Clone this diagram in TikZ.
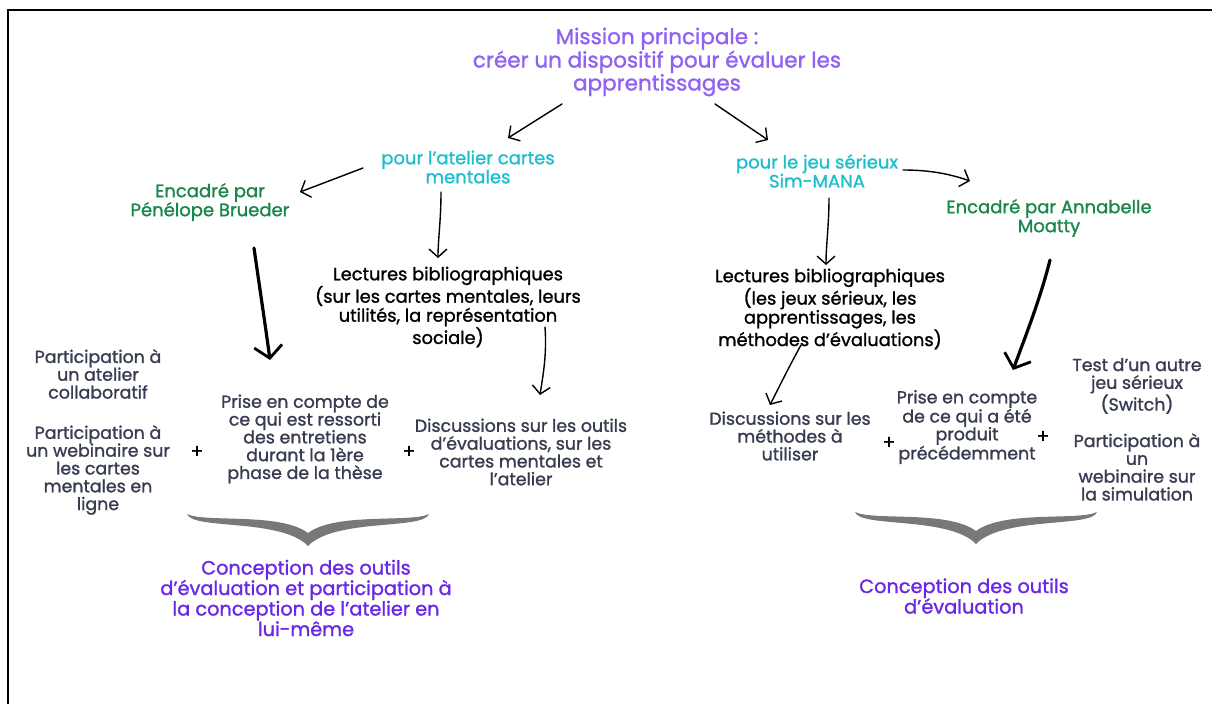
\documentclass[tikz,border=0pt]{standalone}
\usepackage{fontspec}
\setmainfont{Poppins}[FakeBold=1.3]
\usetikzlibrary{arrows.meta}
\definecolor{titlecol}{RGB}{143,98,243}
\definecolor{cyancol}{RGB}{32,190,205}
\definecolor{greencol}{RGB}{25,135,75}
\definecolor{graytext}{RGB}{55,60,80}
\definecolor{purplecol}{RGB}{105,40,230}
\definecolor{bracecol}{RGB}{120,120,120}
\tikzset{
  base/.style={align=center, inner sep=0pt, anchor=center},
  titletxt/.style={base, text=titlecol, font=\fontsize{21.5}{21}\selectfont},
  branch/.style={base, text=cyancol, font=\fontsize{18}{19}\selectfont},
  super/.style={base, text=greencol, font=\fontsize{18}{19}\selectfont},
  readtxt/.style={base, text=black, font=\fontsize{17.8}{19}\selectfont},
  itemtxt/.style={base, text=graytext, font=\fontsize{17.4}{17.8}\selectfont},
  resulttxt/.style={base, text=purplecol, font=\fontsize{19.3}{20.5}\selectfont},
  plustxt/.style={base, text=black, font=\fontsize{19}{20}\selectfont},
  thin arrow/.style={line width=1.4pt, line cap=round, -{Straight Barb[length=8pt,width=18pt,line width=1.4pt]}},
  thick arrow/.style={line width=3.2pt, line cap=round, -{Straight Barb[length=12pt,width=28pt,line width=2.8pt]}},
  bracefill/.style={fill=bracecol, draw=none},
}
\begin{document}
\begin{tikzpicture}[x=1pt,y=-1pt]
\useasboundingbox (0,0) rectangle (1212,704);
% frame
\draw[line width=2pt] (8,704) -- (8,10) -- (1212,10);
% texts
\node[titletxt] (title) at (657,62) {Mission principale :\\créer un dispositif pour évaluer les\\apprentissages};
\node[branch] (atelier) at (468,167) {pour l'atelier cartes\\mentales};
\node[branch] (jeu) at (817,171) {pour le jeu sérieux\\Sim-MANA};
\node[super] (penelope) at (210,202) {Encadré par\\Pénélope Brueder};
\node[super] (annabelle) at (1049,218) {Encadré par Annabelle\\Moatty};
\node[readtxt] (lecL) at (448,307) {Lectures bibliographiques\\(sur les cartes mentales, leurs\\utilités, la représentation\\sociale)};
\node[readtxt] (lecR) at (830,309) {Lectures bibliographiques\\(les jeux sérieux, les\\apprentissages, les\\méthodes d'évaluations)};
\node[itemtxt] (atelierCollab) at (98,374) {Participation à\\un atelier\\collaboratif};
\node[itemtxt] (webL) at (98,470) {Participation à\\un webinaire sur\\les cartes\\mentales en\\ligne};
\node[plustxt] (plusL1) at (197,452) {+};
\node[itemtxt] (priseL) at (305,439) {Prise en compte de\\ce qui est ressorti\\des entretiens\\durant la 1ère\\phase de la thèse};
\node[plustxt] (plusL2) at (409,452) {+};
\node[itemtxt] (discL) at (521,452) {Discussions sur les outils\\d'évaluations, sur les\\cartes mentales et\\l'atelier};
\node[itemtxt] (discR) at (790,436) {Discussions sur les\\méthodes à\\utiliser};
\node[plustxt] (plusR1) at (889,443) {+};
\node[itemtxt] (priseR) at (967,427) {Prise en compte\\de ce qui a été\\produit\\précédemment};
\node[plustxt] (plusR2) at (1043,437) {+};
\node[itemtxt] (testR) at (1137,386) {Test d'un autre\\jeu sérieux\\(Switch)};
\node[itemtxt] (webR) at (1137,467) {Participation à\\un\\webinaire sur\\la simulation};
\node[resulttxt] (resL) at (306,598) {Conception des outils\\d'évaluation et participation à\\la conception de l'atelier en\\lui-même};
\node[resulttxt] (resR) at (964,596) {Conception des outils\\d'évaluation};
% arrow end points
\coordinate (t1s) at (562,104); \coordinate (t1e) at (508,138);
\coordinate (t2s) at (715,104); \coordinate (t2e) at (768,140);
\coordinate (a1s) at (363,168); \coordinate (a1e) at (300,192);
\coordinate (a2s) at (441,192); \coordinate (a2e) at (438,258);
\coordinate (j1s) at (829,198); \coordinate (j1e) at (826,265);
\coordinate (j2s) at (903,170); \coordinate (j2e) at (970,181);
\coordinate (p1s) at (254,248); \coordinate (p1e) at (270,360);
\coordinate (m1s) at (1050,260); \coordinate (m1e) at (1013,370);
\coordinate (l1s) at (545,327); \coordinate (l1e) at (540,395);
\coordinate (r1s) at (801,345); \coordinate (r1e) at (770,405);
% connectors
\draw[thin arrow] (t1s) -- (t1e);
\draw[thin arrow] (t2s) -- (t2e);
\draw[thin arrow] (a1s) -- (a1e);
\draw[thin arrow] (a2s) .. controls (441,220) and (438,240) .. (a2e);
\draw[thin arrow] (j1s) .. controls (829,225) and (826,245) .. (j1e);
\draw[thin arrow] (j2s) .. controls (930,170) and (950,174) .. (j2e);
\draw[thick arrow] (p1s) .. controls (260,290) and (266,330) .. (p1e);
\draw[thick arrow] (m1s) .. controls (1040,300) and (1024,340) .. (m1e);
\draw[thin arrow] (l1s) .. controls (547,355) and (543,375) .. (l1e);
\draw[thin arrow] (r1s) .. controls (790,365) and (780,385) .. (r1e);
% braces
\fill[bracefill] (187,514) .. controls (205,523) and (280,512) .. (308,533)
  .. controls (336,512) and (411,523) .. (429,514)
  .. controls (424,530) and (335,518) .. (308,546)
  .. controls (281,518) and (192,530) .. (187,514) -- cycle;
\fill[bracefill] (855,512) .. controls (873,521) and (948,510) .. (976,531)
  .. controls (1004,510) and (1079,521) .. (1097,512)
  .. controls (1092,528) and (1003,516) .. (976,544)
  .. controls (949,516) and (860,528) .. (855,512) -- cycle;
\end{tikzpicture}
\end{document}
